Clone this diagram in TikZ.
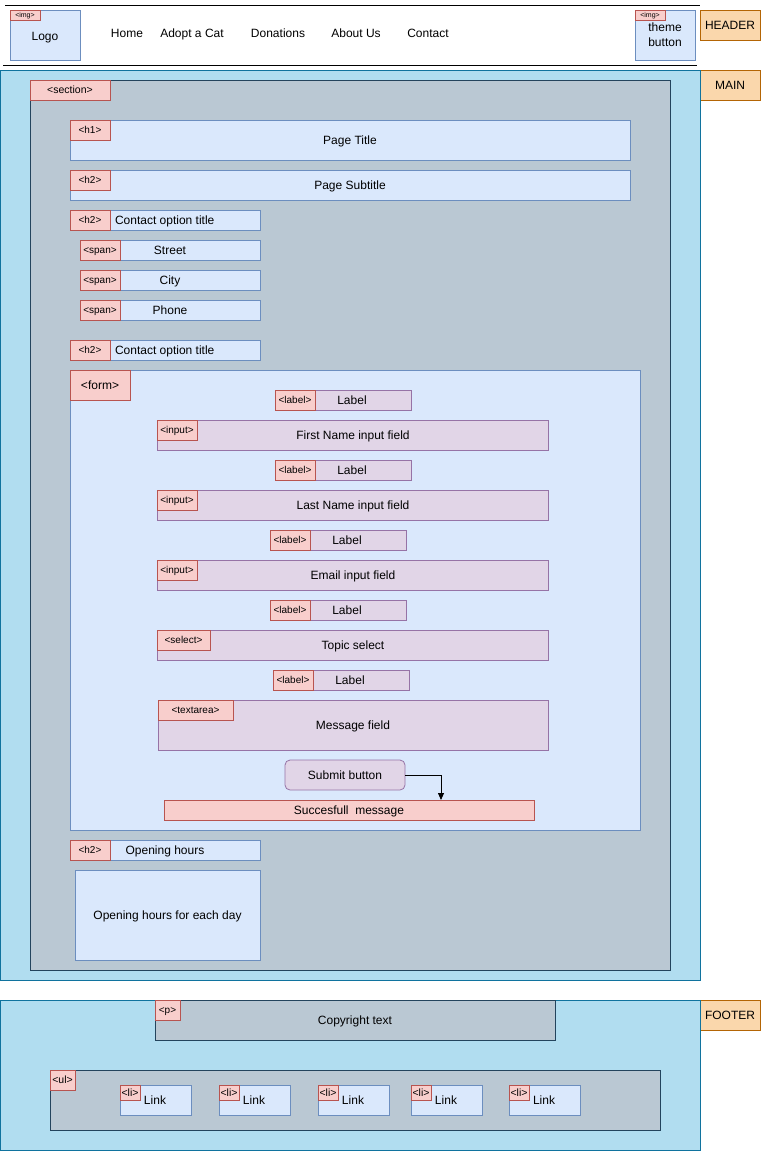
\documentclass[tikz,border=0pt]{standalone}
\usepackage{fontspec}
\setmainfont{Liberation Sans}
\usetikzlibrary{arrows.meta}
\definecolor{bluef}{HTML}{DAE8FC}\definecolor{bluel}{HTML}{6C8EBF}
\definecolor{redf}{HTML}{F8CECC}\definecolor{redl}{HTML}{B85450}
\definecolor{purf}{HTML}{E1D5E7}\definecolor{purl}{HTML}{9673A6}
\definecolor{grayf}{HTML}{BAC8D3}\definecolor{grayl}{HTML}{23445D}
\definecolor{cyanf}{HTML}{B1DDF0}\definecolor{cyanl}{HTML}{10739E}
\definecolor{orf}{HTML}{FAD7AC}\definecolor{orl}{HTML}{B46504}
\newcommand\bx[7]{\node[#2, minimum width=#5pt, minimum height=#6pt, anchor=north west] (#1) at (#3,#4) {#7};}
\tikzset{
  every node/.style={inner sep=0pt, outer sep=0pt, font=\fontsize{12}{14}\selectfont, text height=10.9pt, text depth=2.5pt},
  bluebox/.style={draw=bluel, fill=bluef, line width=0.8pt},
  tagbox/.style={draw=redl, fill=redf, line width=0.8pt, font=\fontsize{#1}{#1}\selectfont, text height=#1*0.9pt, text depth=#1*0.21pt},
  tagbox/.default=10,
  purbox/.style={draw=purl, fill=purf, line width=0.8pt},
  graybox/.style={draw=grayl, fill=grayf, line width=0.8pt},
  cyanbox/.style={draw=cyanl, fill=cyanf, line width=0.8pt},
  orbox/.style={draw=orl, fill=orf, line width=0.8pt},
  txt/.style={font=\fontsize{12}{14}\selectfont},
}
\begin{document}
\begin{tikzpicture}[x=1pt,y=-1pt]
\useasboundingbox (0,0) rectangle (761,1151);
\fill[white] (0,0) rectangle (761,1151);
% header
\coordinate (hl1) at (5,5); \coordinate (hr1) at (700,5);
\coordinate (hl2) at (3,65); \coordinate (hr2) at (697,65);
\draw[line width=0.8pt] (hl1) -- (hr1);
\draw[line width=0.8pt] (hl2) -- (hr2);
\bx{logo}{bluebox}{10}{10}{70}{50}{}
\node[txt] (logotx) at (45,36) {Logo};
\bx{imgtag1}{tagbox=7}{10}{10}{30}{10}{<img>}
\node[txt] (home) at (127,33) {Home};
\node[txt] (adopt) at (192,33) {Adopt a Cat};
\node[txt] (don) at (278,33) {Donations};
\node[txt] (about) at (356,33) {About Us};
\node[txt] (contact) at (428,33) {Contact};
\bx{theme}{bluebox}{635}{10}{60}{50}{}
\node[txt] (theme1) at (665,27.5) {theme};
\node[txt] (theme2) at (665,42.5) {button};
\bx{imgtag2}{tagbox=7}{635}{10}{30}{10}{<img>}
\bx{hdr}{orbox}{700}{10}{60}{30}{HEADER}
\bx{mainlbl}{orbox}{700}{70}{60}{30}{MAIN}
\bx{ftrlbl}{orbox}{700}{1000}{60}{30}{FOOTER}
% main
\bx{main}{cyanbox}{0}{70}{700}{910}{}
\bx{section}{graybox}{30}{80}{640}{890}{}
\bx{sectag}{tagbox=10.5}{30}{80}{80}{20}{<section>}
\bx{h1}{bluebox}{70}{120}{560}{40}{}
\node[txt] (h1tx) at (350,140) {Page Title};
\bx{h1tag}{tagbox}{70}{120}{40}{20}{<h1>}
\bx{h2a}{bluebox}{70}{170}{560}{30}{}
\node[txt] (h2atx) at (350,185) {Page Subtitle};
\bx{h2atag}{tagbox}{70}{170}{40}{20}{<h2>}
\bx{h2b}{bluebox}{70}{210}{190}{20}{}
\bx{h2btag}{tagbox}{70}{210}{40}{20}{<h2>}
\node[txt,anchor=west] (h2btx) at (115,220) {Contact option title};
\bx{sp1}{bluebox}{80}{240}{180}{20}{}
\bx{sp1tag}{tagbox}{80}{240}{40}{20}{<span>}
\node[txt] (sp1tx) at (170,250) {Street};
\bx{sp2}{bluebox}{80}{270}{180}{20}{}
\bx{sp2tag}{tagbox}{80}{270}{40}{20}{<span>}
\node[txt] (sp2tx) at (170,280) {City};
\bx{sp3}{bluebox}{80}{300}{180}{20}{}
\bx{sp3tag}{tagbox}{80}{300}{40}{20}{<span>}
\node[txt] (sp3tx) at (170,310) {Phone};
\bx{h2c}{bluebox}{70}{340}{190}{20}{}
\bx{h2ctag}{tagbox}{70}{340}{40}{20}{<h2>}
\node[txt,anchor=west] (h2ctx) at (115,350) {Contact option title};
% form
\bx{form}{bluebox}{70}{370}{570}{460}{}
\bx{formtag}{tagbox=12}{70}{370}{60}{30}{<form>}
\bx{lb1}{purbox}{275}{390}{136}{20}{}
\bx{lb1tag}{tagbox}{275}{390}{40}{20}{<label>}
\node[txt] (lb1tx) at (352,400) {Label};
\bx{in1}{purbox}{157}{420}{391}{30}{}
\bx{in1tag}{tagbox}{157}{420}{40}{20}{<input>}
\node[txt] (in1tx) at (353,435) {First Name input field};
\bx{lb2}{purbox}{275}{460}{136}{20}{}
\bx{lb2tag}{tagbox}{275}{460}{40}{20}{<label>}
\node[txt] (lb2tx) at (352,470) {Label};
\bx{in2}{purbox}{157}{490}{391}{30}{}
\bx{in2tag}{tagbox}{157}{490}{40}{20}{<input>}
\node[txt] (in2tx) at (353,505) {Last Name input field};
\bx{lb3}{purbox}{270}{530}{136}{20}{}
\bx{lb3tag}{tagbox}{270}{530}{40}{20}{<label>}
\node[txt] (lb3tx) at (347,540) {Label};
\bx{in3}{purbox}{157}{560}{391}{30}{}
\bx{in3tag}{tagbox}{157}{560}{40}{20}{<input>}
\node[txt] (in3tx) at (353,575) {Email input field};
\bx{lb4}{purbox}{270}{600}{136}{20}{}
\bx{lb4tag}{tagbox}{270}{600}{40}{20}{<label>}
\node[txt] (lb4tx) at (347,610) {Label};
\bx{sel}{purbox}{157}{630}{391}{30}{}
\bx{seltag}{tagbox}{157}{630}{53}{20}{<select>}
\node[txt] (seltx) at (353,645) {Topic select};
\bx{lb5}{purbox}{273}{670}{136}{20}{}
\bx{lb5tag}{tagbox}{273}{670}{40}{20}{<label>}
\node[txt] (lb5tx) at (350,680) {Label};
\bx{ta}{purbox}{158}{700}{390}{50}{}
\bx{tatag}{tagbox}{158}{700}{75}{20}{<textarea>}
\node[txt] (tatx) at (353,725) {Message field};
\bx{sub}{purbox,rounded corners=5pt}{285}{760}{120}{30}{Submit button}
\bx{msg}{draw=redl,fill=redf,line width=0.8pt}{164}{800}{370}{20}{Succesfull\ \ message}
\coordinate (arend) at (441,800);
\draw[line width=0.8pt,-{Triangle[width=6pt,length=7pt]}] (sub.east) -| (arend);
% opening hours
\bx{h2d}{bluebox}{70}{840}{190}{20}{}
\bx{h2dtag}{tagbox}{70}{840}{40}{20}{<h2>}
\node[txt] (h2dtx) at (165,850) {Opening hours};
\bx{oh}{bluebox}{75}{870}{185}{90}{Opening hours for each day}
% footer
\bx{footer}{cyanbox}{0}{1000}{700}{150}{}
\bx{pbox}{graybox}{155}{1000}{400}{40}{}
\bx{ptag}{tagbox}{155}{1000}{25}{20}{<p>}
\node[txt] (ptx) at (355,1020) {Copyright text};
\bx{ul}{graybox}{50}{1070}{610}{60}{}
\bx{ultag}{tagbox=10.5}{50}{1070}{25}{20}{<ul>}
\foreach \i/\x in {1/120,2/219,3/318,4/411,5/509}{
  \bx{li\i}{bluebox}{\x}{1085}{71}{30}{}
  \bx{litag\i}{tagbox=10.5}{\x}{1085}{20}{15}{<li>}
  \node[txt] (litx\i) at (\x+35,1100) {Link};
}
\end{tikzpicture}
\end{document}
